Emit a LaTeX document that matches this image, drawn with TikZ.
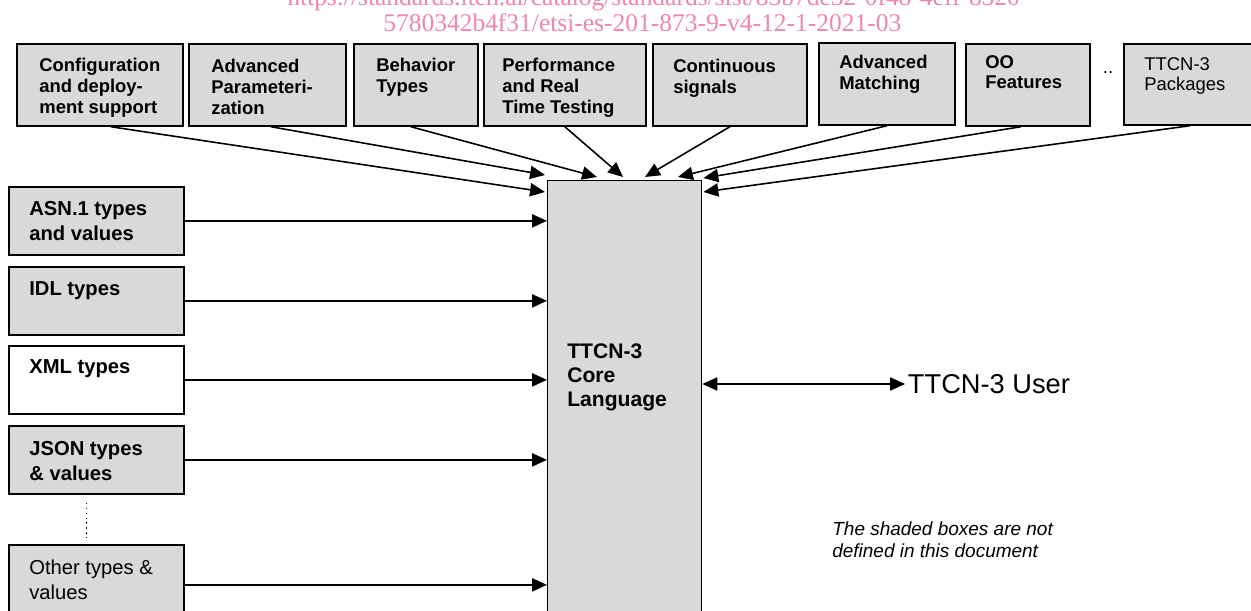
\documentclass[tikz,border=0pt]{standalone}
\usepackage{fontspec}
\setmainfont{Liberation Sans}
\newfontfamily\wmfont{Liberation Serif}
\usetikzlibrary{arrows.meta}
\definecolor{boxgray}{HTML}{D9D9D9}
\definecolor{wmpink}{RGB}{238,136,165}
\tikzstyle{arrow} = [-{Triangle[length=8.5pt,width=7.5pt]}, line width=0.9pt]
\tikzstyle{twoway} = [{Triangle[length=8.5pt,width=7.5pt]}-{Triangle[length=8.5pt,width=7.5pt]}, line width=0.9pt]
\tikzstyle{block} = [draw, line width=1pt, fill=boxgray, anchor=north west, inner sep=0pt]
\tikzstyle{toptext} = [anchor=north west, inner sep=0pt, align=left, font=\fontsize{10.5}{11.8}\selectfont\bfseries]
\tikzstyle{sidetext} = [anchor=north west, inner sep=0pt, align=left, font=\fontsize{11.5}{14.2}\selectfont\bfseries]
\tikzstyle{wmark} = [anchor=base west, inner sep=0pt, text=wmpink, font=\wmfont\fontsize{14.5}{16}\selectfont]

\begin{document}
\begin{tikzpicture}[x=0.02cm, y=-0.02cm]
    \useasboundingbox (0,0) rectangle (1251,611);

    % watermark
    \node[wmark] (wmtop) at (287,6) {https://standards.iteh.ai/catalog/standards/sist/83b7de32-0f48-4eff-8520};
    \node[wmark] (wmbot) at (383,32) {5780342b4f31/etsi-es-201-873-9-v4-12-1-2021-03};

    % top row
    \node[block, minimum width=3.32cm, minimum height=1.64cm] (cfg) at (16,43) {};
    \node[block, minimum width=3.14cm, minimum height=1.64cm] (adv) at (188,43) {};
    \node[block, minimum width=2.48cm, minimum height=1.64cm] (beh) at (353,43) {};
    \node[block, minimum width=3.24cm, minimum height=1.64cm] (perf) at (483,43) {};
    \node[block, minimum width=3.08cm, minimum height=1.64cm] (cont) at (652,43) {};
    \node[block, minimum width=2.72cm, minimum height=1.64cm] (match) at (818,42) {};
    \node[block, minimum width=2.48cm, minimum height=1.64cm] (oo) at (965,43) {};
    \node[block, minimum width=2.78cm, minimum height=1.62cm] (pkg) at (1123,43) {};

    \node[toptext] (cfgt) at (39,58) {Configuration\\and deploy-\\ment support};
    \node[toptext] (advt) at (211,59) {Advanced\\Parameteri-\\zation};
    \node[toptext] (beht) at (376,58) {Behavior\\Types};
    \begin{scope}
        \clip (perf.north west) rectangle ([yshift=0.18cm]perf.south east);
        \node[toptext] (perft) at (502,58) {Performance\\and Real\\Time Testing};
    \end{scope}
    \node[toptext] (contt) at (673,59) {Continuous\\signals};
    \node[toptext] (matcht) at (839,55) {Advanced\\Matching};
    \node[toptext] (oot) at (985,55) {OO\\Features};
    \node[toptext, font=\fontsize{10.5}{11.8}\selectfont] (pkgt) at (1144,57) {TTCN-3\\Packages};
    \node[font=\fontsize{10.5}{12}\selectfont] (dots) at (1108,73) {..};

    % left column
    \node[block, minimum width=3.5cm, minimum height=1.36cm] (asn) at (8,186) {};
    \node[block, minimum width=3.5cm, minimum height=1.36cm] (idl) at (8,266) {};
    \node[block, fill=white, minimum width=3.5cm, minimum height=1.36cm] (xml) at (8,345) {};
    \node[block, minimum width=3.5cm, minimum height=1.36cm] (json) at (8,425) {};
    \node[block, minimum width=3.5cm, minimum height=1.6cm] (other) at (8,544) {};

    \node[sidetext] (asnt) at (29,201) {ASN.1 types\\and values};
    \node[sidetext] (idlt) at (29,281) {IDL types};
    \node[sidetext] (xmlt) at (29,359) {XML types};
    \node[sidetext] (jsont) at (29,441) {JSON types\\\& values};
    \node[sidetext, font=\fontsize{11.5}{14.2}\selectfont] (othert) at (29,560) {Other types \&\\values};
    \draw[dotted, line width=0.8pt] ([xshift=-0.2cm,yshift=-0.16cm]json.south) -- ([xshift=-0.2cm,yshift=0.12cm]other.north);

    % core
    \node[block, line width=0.8pt, minimum width=3.08cm, minimum height=9.2cm] (core) at (547,180) {};
    \node[anchor=north west, inner sep=0pt, align=left, font=\fontsize{12}{13.7}\selectfont\bfseries] (coret) at (567,343) {TTCN-3\\Core\\Language};

    \draw[arrow] ([xshift=0.22cm]cfg.south) -- ([xshift=-0.04cm,yshift=-0.24cm]core.north west);
    \draw[arrow] ([xshift=0.07cm]adv.south) -- ([xshift=-0.04cm,yshift=0.1cm]core.north west);
    \draw[arrow] ([xshift=-0.1cm]beh.south) -- ([xshift=1cm,yshift=0.06cm]core.north west);
    \draw[arrow] (perf.south) -- ([xshift=1.52cm,yshift=0.06cm]core.north west);
    \draw[arrow] (cont.south) -- ([xshift=1.96cm,yshift=0.06cm]core.north west);
    \draw[arrow] (match.south) -- ([xshift=2.62cm,yshift=0.06cm]core.north west);
    \draw[arrow] ([xshift=-0.14cm]oo.south) -- ([xshift=0.02cm,yshift=0.04cm]core.north east);
    \draw[arrow] ([xshift=-0.07cm]pkg.south) -- ([xshift=0.02cm,yshift=-0.24cm]core.north east);

    \draw[arrow] (asn.east) -- (asn.east -| core.west);
    \draw[arrow] (idl.east) -- (idl.east -| core.west);
    \draw[arrow] (xml.east) -- (xml.east -| core.west);
    \draw[arrow] (json.east) -- (json.east -| core.west);
    \draw[arrow] (other.east) -- (other.east -| core.west);

    % user side
    \node[anchor=west, inner sep=1.5pt, font=\fontsize{15.5}{18}\selectfont] (user) at (905,384) {TTCN-3 User};
    \draw[twoway] (core.east |- user.west) -- (user.west);

    \node[anchor=north west, inner sep=0pt, align=left, font=\fontsize{10.8}{13}\selectfont\itshape] (note) at (832,521) {The shaded boxes are not\\defined in this document};
\end{tikzpicture}
\end{document}
